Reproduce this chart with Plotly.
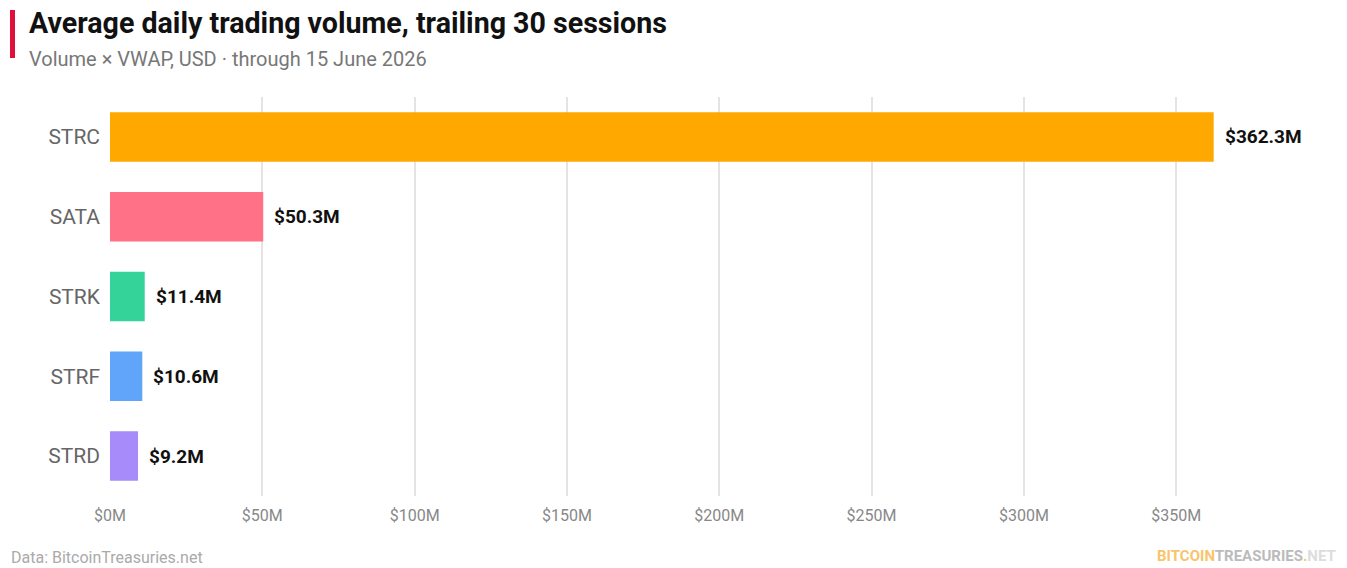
import plotly.graph_objects as go

categories = ["STRC", "SATA", "STRK", "STRF", "STRD"]
values = [362.3, 50.3, 11.4, 10.6, 9.2]
labels = ["$362.3M", "$50.3M", "$11.4M", "$10.6M", "$9.2M"]
colors = ["#FFA800", "#FF7187", "#34D399", "#60A5FA", "#A78BFA"]
tick_vals = [0, 50, 100, 150, 200, 250, 300, 350]
tick_text = ["$0M", "$50M", "$100M", "$150M", "$200M", "$250M", "$300M", "$350M"]

W, H = 1347, 568
l, r, t, b = 110, 27, 97, 72
pw, ph = W - l - r, H - t - b

fig = go.Figure()
fig.add_trace(go.Bar(
    x=values, y=categories, orientation="h",
    marker=dict(color=colors, line=dict(width=0)),
    width=0.62,
    hoverinfo="skip",
))

annotations = []
for c, v, lab in zip(categories, values, labels):
    annotations.append(dict(x=v, y=c, xref="x", yref="y", text=lab, showarrow=False,
                            xanchor="left", yanchor="middle", xshift=9,
                            font=dict(family="Roboto", size=19, color="#111111", weight="bold")))

def px_ann(text, x, y, size, color, anchor="left", weight="normal", family="Roboto"):
    return dict(text=text, x=(x - l) / pw, y=1 - (y - t) / ph, xref="paper", yref="paper",
                showarrow=False, xanchor=anchor, yanchor="middle",
                font=dict(family=family, size=size, color=color, weight=weight))

annotations += [
    px_ann("Average daily trading volume, trailing 30 sessions", 27, 23, 28.6, "#111111", weight="bold"),
    px_ann("Volume × VWAP, USD · through 15 June 2026", 27, 59, 20, "#777777"),
    px_ann("Data: BitcoinTreasuries.net", 9, 557, 16, "#AAAAAA"),
    px_ann("<span style='color:#F9C46B'>BITCOIN</span><span style='color:#BBBBBB'>TREASURIES</span>"
           "<span style='color:#F9C46B'>.</span><span style='color:#DDDDDD'>NET</span>",
           1338, 556, 15, "#BBBBBB", anchor="right", weight="bold", family="Roboto"),
]

fig.update_layout(
    width=W, height=H,
    margin=dict(l=l, r=r, t=t, b=b),
    paper_bgcolor="white", plot_bgcolor="white",
    showlegend=False,
    font=dict(family="Roboto"),
    xaxis=dict(range=[0, 397.2], tickvals=tick_vals, ticktext=tick_text,
               showgrid=True, gridcolor="#E6E3E1", gridwidth=1.5, zeroline=False,
               showline=False, ticks="", ticklabelstandoff=8,
               tickfont=dict(family="Roboto", size=16, color="#888888")),
    yaxis=dict(categoryorder="array", categoryarray=categories[::-1],
               showgrid=False, zeroline=False, showline=False, ticks="",
               ticklabelstandoff=9,
               tickfont=dict(family="Roboto", size=21, color="#666666")),
    annotations=annotations,
    shapes=[dict(type="rect", xref="paper", yref="paper",
                 x0=(10 - l) / pw, x1=(15 - l) / pw,
                 y0=1 - (58 - t) / ph, y1=1 - (10 - t) / ph,
                 fillcolor="#E0103C", line=dict(width=0))],
)

fig.write_html("out.html")
